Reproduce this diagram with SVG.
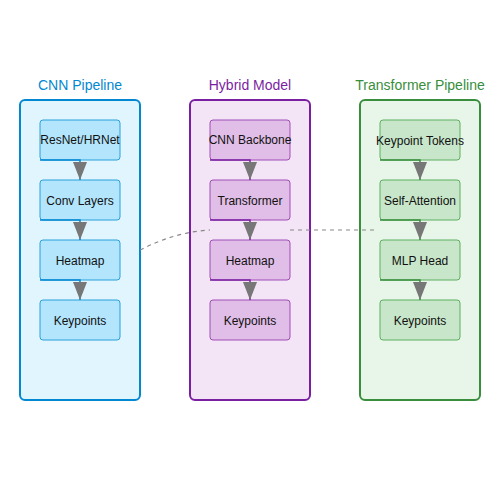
<svg xmlns="http://www.w3.org/2000/svg" width="500" height="500" viewBox="0 0 500 500">
<defs>
<marker id="arr" viewBox="0 0 18 14" refX="18" refY="7" markerWidth="18" markerHeight="14" markerUnits="userSpaceOnUse" orient="auto">
<path d="M0,0 L18,7 L0,14 Z" fill="#777"/>
</marker>
<style>
text{font-family:"Liberation Sans",Arial,sans-serif;text-anchor:middle}
.title{font-size:14px}
.lbl{font-size:12px;fill:#111}
.c1{fill:#e1f5fe;stroke:#0288d1;stroke-width:2}
.c2{fill:#f3e5f5;stroke:#7b1fa2;stroke-width:2}
.c3{fill:#e8f5e9;stroke:#388e3c;stroke-width:2}
.n1{fill:#b3e5fc;stroke:#29a0dc;stroke-width:1}
.n2{fill:#e1bee7;stroke:#a04cb8;stroke-width:1}
.n3{fill:#c8e6c9;stroke:#5cb060;stroke-width:1}
.e1{fill:none;stroke:#0288d1;stroke-width:1.5}
.e2{fill:none;stroke:#7b1fa2;stroke-width:1.5}
.e3{fill:none;stroke:#388e3c;stroke-width:1.5}
.dash{fill:none;stroke:#888;stroke-width:1.2;stroke-dasharray:4,4}
</style>
</defs>
<g id="col-cnn">
<rect class="c1" x="20" y="100" width="120" height="300" rx="5"/>
<text class="title" x="80" y="90" fill="#0288d1">CNN Pipeline</text>
</g>
<g id="col-hybrid">
<rect class="c2" x="190" y="100" width="120" height="300" rx="5"/>
<text class="title" x="250" y="90" fill="#7b1fa2">Hybrid Model</text>
</g>
<g id="col-trans">
<rect class="c3" x="360" y="100" width="120" height="300" rx="5"/>
<text class="title" x="420" y="90" fill="#388e3c">Transformer Pipeline</text>
</g>
<g id="n-resnet"><rect class="n1" x="40" y="120" width="80" height="40" rx="3"/><text class="lbl" x="80" y="144">ResNet/HRNet</text></g>
<g id="n-conv"><rect class="n1" x="40" y="180" width="80" height="40" rx="3"/><text class="lbl" x="80" y="205">Conv Layers</text></g>
<g id="n-heat1"><rect class="n1" x="40" y="240" width="80" height="40" rx="3"/><text class="lbl" x="80" y="265">Heatmap</text></g>
<g id="n-kp1"><rect class="n1" x="40" y="300" width="80" height="40" rx="3"/><text class="lbl" x="80" y="325">Keypoints</text></g>
<g id="n-backbone"><rect class="n2" x="210" y="120" width="80" height="40" rx="3"/><text class="lbl" x="250" y="144">CNN Backbone</text></g>
<g id="n-transformer"><rect class="n2" x="210" y="180" width="80" height="40" rx="3"/><text class="lbl" x="250" y="205">Transformer</text></g>
<g id="n-heat2"><rect class="n2" x="210" y="240" width="80" height="40" rx="3"/><text class="lbl" x="250" y="265">Heatmap</text></g>
<g id="n-kp2"><rect class="n2" x="210" y="300" width="80" height="40" rx="3"/><text class="lbl" x="250" y="325">Keypoints</text></g>
<g id="n-tokens"><rect class="n3" x="380" y="120" width="80" height="40" rx="3"/><text class="lbl" x="420" y="145">Keypoint Tokens</text></g>
<g id="n-selfatt"><rect class="n3" x="380" y="180" width="80" height="40" rx="3"/><text class="lbl" x="420" y="205">Self-Attention</text></g>
<g id="n-mlp"><rect class="n3" x="380" y="240" width="80" height="40" rx="3"/><text class="lbl" x="420" y="265">MLP Head</text></g>
<g id="n-kp3"><rect class="n3" x="380" y="300" width="80" height="40" rx="3"/><text class="lbl" x="420" y="325">Keypoints</text></g>
<g id="connectors">
<path class="e1" d="M40,160 L80,160 L80,180" marker-end="url(#arr)"/>
<path class="e1" d="M40,220 L80,220 L80,240" marker-end="url(#arr)"/>
<path class="e1" d="M40,280 L80,280 L80,300" marker-end="url(#arr)"/>
<path class="e2" d="M210,160 L250,160 L250,180" marker-end="url(#arr)"/>
<path class="e2" d="M210,220 L250,220 L250,240" marker-end="url(#arr)"/>
<path class="e2" d="M210,280 L250,280 L250,300" marker-end="url(#arr)"/>
<path class="e3" d="M380,160 L420,160 L420,180" marker-end="url(#arr)"/>
<path class="e3" d="M380,220 L420,220 L420,240" marker-end="url(#arr)"/>
<path class="e3" d="M380,280 L420,280 L420,300" marker-end="url(#arr)"/>
<path class="dash" d="M140,250 Q175,232 210,230"/>
<path class="dash" d="M290,230 L375,230"/>
</g>
</svg>
